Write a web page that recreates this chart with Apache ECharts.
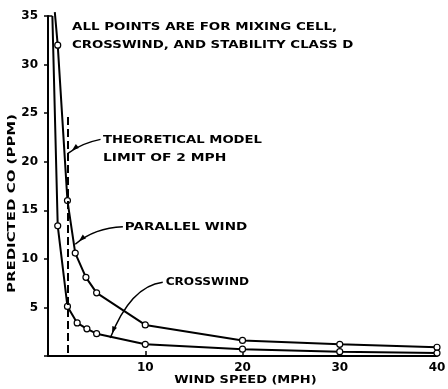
<!DOCTYPE html>
<html>
<head>
<meta charset="utf-8">
<script src="https://cdn.jsdelivr.net/npm/echarts@6/dist/echarts.min.js"></script>
<style>
  html, body { margin: 0; padding: 0; background: #fff; }
  #chart { width: 448px; height: 389px; }
</style>
</head>
<body>
<div id="chart"></div>
<script>
// Wind speed (mph) and predicted CO concentration (ppm)
var parallelSpeed = [0.7, 1, 2, 2.8, 3.9, 5, 10, 20, 30, 40];
var parallelCO    = [35.4, 32, 16, 10.6, 8.1, 6.5, 3.2, 1.6, 1.2, 0.9];
var crossSpeed    = [0.45, 1, 2, 3, 4, 5, 10, 20, 30, 40];
var crossCO       = [35.0, 13.4, 5.1, 3.4, 2.8, 2.3, 1.2, 0.7, 0.45, 0.3];
// Theoretical model wind speed limit (mph)
var modelLimit = 2;
var xTicks = [10, 20, 30, 40];
var yTicks = [5, 10, 15, 20, 25, 30, 35];

var FONT = '"DejaVu Sans", sans-serif';
var INK = '#000';

function pairs(xs, ys) {
  return xs.map(function (x, i) { return [x, ys[i]]; });
}
// marker on measured points only (first entry runs off the top of the plot)
function pointData(xs, ys) {
  return pairs(xs, ys).map(function (p, i) {
    return i === 0 ? { value: p, symbol: 'none' } : p;
  });
}

var chart = echarts.init(document.getElementById('chart'), null, { renderer: 'canvas' });

var option = {
  backgroundColor: '#fff',
  animation: false,
  grid: { left: 48, right: 11, top: 16, bottom: 33, containLabel: false, outerBoundsMode: 'none' },
  xAxis: {
    type: 'value', min: 0, max: 40, interval: 10,
    axisLine: { lineStyle: { color: INK, width: 2 } },
    axisTick: { inside: true, length: 5, lineStyle: { color: INK, width: 1.5 } },
    axisLabel: {
      fontFamily: FONT, fontWeight: 'bold', fontSize: 12, color: INK, margin: 6,
      formatter: function (v) { return xTicks.indexOf(v) >= 0 ? String(v) : ''; }
    },
    splitLine: { show: false }
  },
  yAxis: {
    type: 'value', min: 0, max: 35, interval: 5,
    axisLine: { lineStyle: { color: INK, width: 2 } },
    axisTick: { length: 4, lineStyle: { color: INK, width: 1.5 } },
    axisLabel: {
      fontFamily: FONT, fontWeight: 'bold', fontSize: 12, color: INK, margin: 10,
      formatter: function (v) { return yTicks.indexOf(v) >= 0 ? String(v) : ''; }
    },
    splitLine: { show: false }
  },
  series: [
    {
      name: 'Parallel wind', type: 'line', clip: false,
      data: pointData(parallelSpeed, parallelCO),
      symbol: 'circle', symbolSize: 6,
      itemStyle: { color: '#fff', borderColor: INK, borderWidth: 1.2 },
      lineStyle: { color: INK, width: 2 },
      z: 3
    },
    {
      name: 'Crosswind', type: 'line', clip: false,
      data: pointData(crossSpeed, crossCO),
      symbol: 'circle', symbolSize: 6,
      itemStyle: { color: '#fff', borderColor: INK, borderWidth: 1.2 },
      lineStyle: { color: INK, width: 2 },
      z: 3,
      markLine: {
        silent: true, symbol: 'none', label: { show: false },
        lineStyle: { color: INK, width: 2, type: [8, 4] },
        data: [[{ coord: [modelLimit, 0.3] }, { coord: [modelLimit, 25] }]]
      }
    }
  ]
};
chart.setOption(option);

// Annotation text and leader arrows, placed in data units
var notes = [
  { text: 'ALL POINTS ARE FOR MIXING CELL,', at: [2.47, 33.9], sx: 1.22 },
  { text: 'CROSSWIND, AND STABILITY CLASS D', at: [2.47, 32.0], sx: 1.21 },
  { text: 'THEORETICAL MODEL', at: [5.65, 22.25], sx: 1.2 },
  { text: 'LIMIT OF 2 MPH', at: [5.65, 20.4], sx: 1.26 },
  { text: 'PARALLEL WIND', at: [7.9, 13.3], sx: 1.23 },
  { text: 'CROSSWIND', at: [12.1, 7.6], sx: 1.1 }
];
// start, control, end of each leader curve
var leaders = [
  { from: [5.4, 22.3], ctrl: [3.4, 21.9], to: [2.05, 20.85] },
  { from: [7.7, 13.3], ctrl: [4.8, 13.2], to: [2.8, 11.5] },
  { from: [11.8, 7.6], ctrl: [8.5, 7.2], to: [6.4, 1.85] }
];
// axis titles: text, anchor in data units, rotation, horizontal scale
var axisTitles = [
  { text: 'WIND SPEED (MPH)', at: [20.3, -2.5], rot: 0, sx: 1.18 },
  { text: 'PREDICTED CO (PPM)', at: [-3.7, 15.7], rot: Math.PI / 2, sx: 1.36 }
];

function px(p) { return chart.convertToPixel({ gridIndex: 0 }, p); }

var graphics = [];
notes.forEach(function (n) {
  var p = px(n.at);
  graphics.push({
    type: 'text', x: p[0], y: p[1], scaleX: n.sx,
    style: {
      text: n.text, fill: INK, font: 'bold 11px ' + FONT,
      textAlign: 'left', textVerticalAlign: 'middle'
    }
  });
});
axisTitles.forEach(function (t) {
  var p = px(t.at);
  graphics.push({
    type: 'text', x: p[0], y: p[1], rotation: t.rot, scaleX: t.sx,
    style: {
      text: t.text, fill: INK, font: 'bold 11px ' + FONT,
      textAlign: 'center', textVerticalAlign: 'middle'
    }
  });
});
// short inward tick closing the top of the value axis
var top0 = px([0, 35]), top1 = px([0.45, 35]);
graphics.push({
  type: 'line',
  shape: { x1: top0[0], y1: top0[1], x2: top1[0], y2: top1[1] },
  style: { stroke: INK, lineWidth: 1.5 }
});
leaders.forEach(function (l) {
  var a = px(l.from), c = px(l.ctrl), b = px(l.to);
  graphics.push({
    type: 'bezierCurve',
    shape: { x1: a[0], y1: a[1], cpx1: c[0], cpy1: c[1], x2: b[0], y2: b[1] },
    style: { stroke: INK, lineWidth: 1.5, fill: null }
  });
  // arrowhead along the final tangent
  var dx = b[0] - c[0], dy = b[1] - c[1];
  var len = Math.sqrt(dx * dx + dy * dy);
  var ux = dx / len, uy = dy / len;
  var tipX = b[0] - ux * 5, tipY = b[1] - uy * 5;
  var baseX = tipX - ux * 7, baseY = tipY - uy * 7;
  graphics.push({
    type: 'polygon',
    shape: { points: [[tipX, tipY], [baseX - uy * 2.5, baseY + ux * 2.5], [baseX + uy * 2.5, baseY - ux * 2.5]] },
    style: { fill: INK }
  });
});
chart.setOption({ graphic: graphics });
</script>
</body>
</html>
